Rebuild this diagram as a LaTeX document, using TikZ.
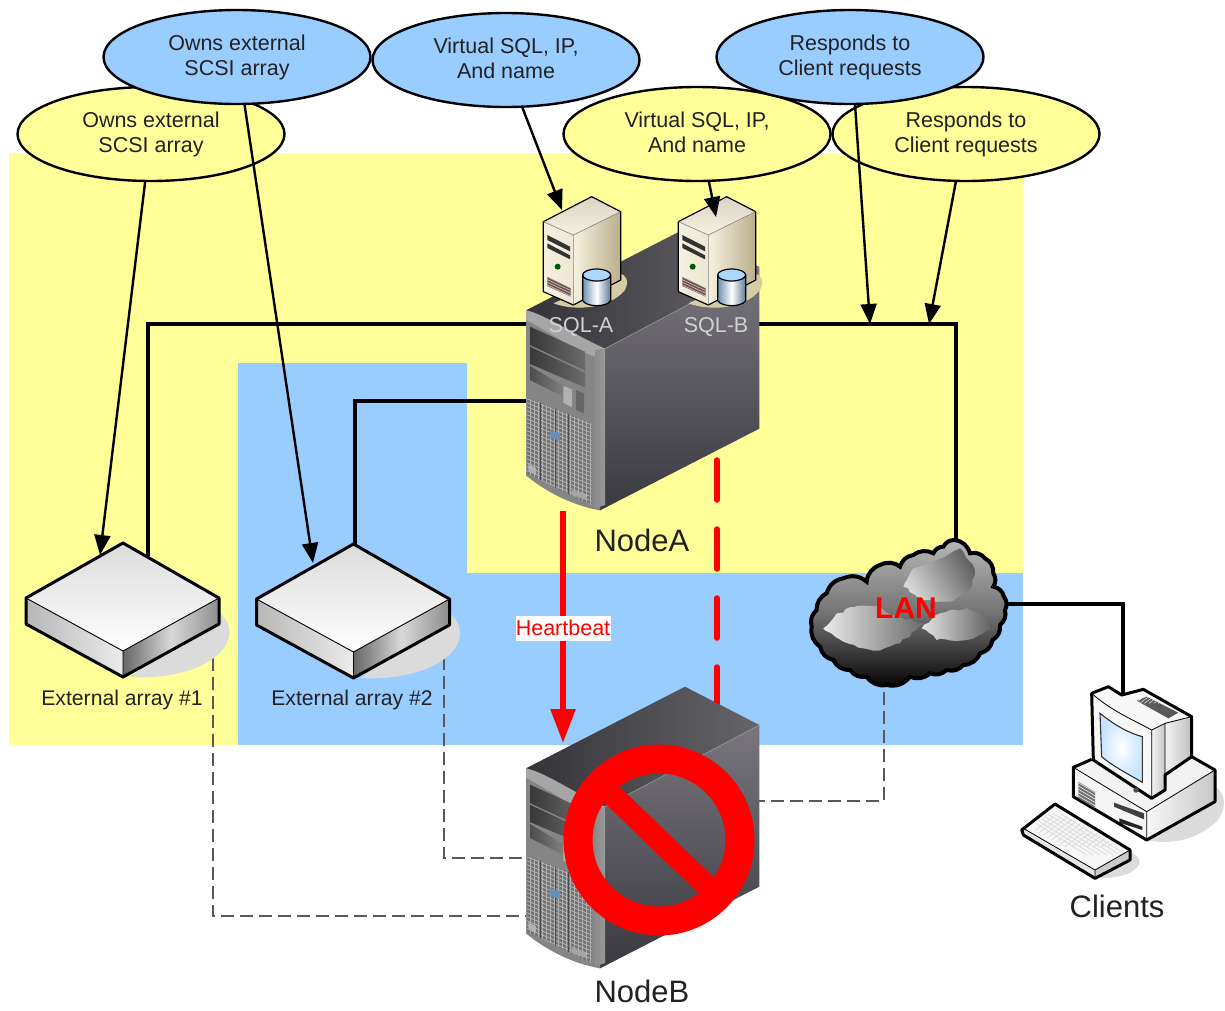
\documentclass[tikz,border=0pt]{standalone}
\usepackage{fontspec}
\setmainfont{Liberation Sans}
\usetikzlibrary{shapes.geometric,arrows.meta,decorations.pathmorphing}
\definecolor{bgyellow}{HTML}{FFFF99}
\definecolor{bgblue}{HTML}{99CCFF}
\definecolor{txt}{HTML}{222222}
\definecolor{towerlight}{HTML}{79777D}
\definecolor{towerdark}{HTML}{3A393F}
\definecolor{beigefront}{HTML}{F6F1E0}
\definecolor{beigeside}{HTML}{B9AF8C}
\definecolor{beigetop}{HTML}{D8D3C2}
\definecolor{beigeshadow}{HTML}{E6DFB0}
\tikzset{
  x=1pt,y=-1pt,
  zoomed/.style={x=0.33333pt,y=-0.33333pt},
  note/.style={ellipse,draw=black,line width=2.4pt,minimum width=267pt,minimum height=94pt,inner sep=0pt,align=center,text=txt,font=\fontsize{21.5}{25}\selectfont},
  noteblue/.style={note,fill=bgblue},
  noteyellow/.style={note,fill=bgyellow},
  pointer/.style={draw=black,line width=2.4pt,-{Triangle[length=20pt,width=16pt]}},
  cable/.style={draw=black,line width=4.5pt,line join=miter},
  standby/.style={draw=black!65,line width=2pt,dash pattern=on 13pt off 6pt},
  lbl/.style={text=txt,inner sep=0pt,font=\fontsize{21.2}{25}\selectfont},
  biglbl/.style={text=txt,inner sep=0pt,font=\fontsize{31}{36}\selectfont},
  sqllbl/.style={text=black!18,inner sep=0pt,font=\fontsize{21.5}{25}\selectfont},
  outl/.style={draw=black,line width=3pt,line join=round},
  blob/.style={decorate,decoration={random steps,segment length=5pt,amplitude=1.6pt}},
  tower/.pic={
    \begin{scope}[zoomed]
      % body behind everything
      \fill[towerdark] (48,391) -- (285,506) -- (270,991) -- (48,886) -- cycle;
      % top
      \shade[left color=towerdark!90!black,right color=towerlight!85!black] (48,391) -- (525,146) -- (748,261) -- (285,506) -- cycle;
      % right face
      \shade[shading angle=20,top color=towerlight,bottom color=towerdark] (285,506) -- (748,261) -- (748,746) -- (270,991) -- cycle;
      \draw[black!40,line width=0.5pt] (285,506) -- (748,261);
      % front
      \fill[black!48] (48,391) .. controls (110,405) and (200,470) .. (285,506) -- (270,991) .. controls (180,975) and (100,930) .. (48,886) -- cycle;
      \fill[black!35] (48,391) .. controls (110,405) and (200,470) .. (285,506) -- (255,530) .. controls (190,510) and (110,450) .. (48,420) -- cycle;
      \shade[left color=black!45,middle color=black!22,right color=black!40] (255,510) -- (285,506) -- (285,975) -- (255,985) -- cycle;
      % drive bays
      \shade[left color=black!78,right color=black!58] (60,440) -- (225,515) -- (225,572) -- (60,495) -- cycle;
      \shade[left color=black!78,right color=black!58] (60,500) -- (225,578) -- (225,622) -- (60,552) -- cycle;
      \shade[left color=black!70,right color=black!50] (60,558) -- (160,618) -- (160,650) -- (60,600) -- cycle;
      \fill[black!30] (160,618) -- (186,628) -- (186,682) -- (160,668) -- cycle;
      \fill[black!60] (198,630) -- (222,640) -- (222,700) -- (198,690) -- cycle;
      % perforated panel
      \begin{scope}
        \clip (50,652) -- (245,730) -- (245,975) -- (50,880) -- cycle;
        \fill[black!55] (40,640) rectangle (250,985);
        \foreach \i in {0,1,...,34} \draw[black!28,line width=0.7pt] (40,640+\i*12) -- (250,725+\i*12);
        \foreach \i in {0,1,...,16} \draw[black!30,line width=0.7pt] (50+\i*12,640) -- (50+\i*12,985);
        \foreach \i in {90,135,175} \draw[black!70,line width=1pt] (\i,640) -- (\i,985);
      \end{scope}
      \fill[bgblue!70!black] (120,750) -- (150,760) -- (150,782) -- (120,772) -- cycle;
      \fill[black!30] (55,852) -- (78,865) -- (78,885) -- (55,872) -- cycle;
      \fill[black!35] (185,930) -- (228,945) -- (228,960) -- (185,945) -- cycle;
    \end{scope}
  },
  minitower/.pic={
    \begin{scope}[zoomed]
      \fill[beigeshadow!60!beigeside] (130,370) .. controls (200,395) and (300,385) .. (345,330) .. controls (360,300) and (345,285) .. (330,280) -- cycle;
      \shade[left color=beigefront,right color=beigefront!85!beigeside] (100,125) -- (190,165) -- (190,375) -- (100,335) -- cycle;
      \shade[left color=beigefront,right color=beigeside] (190,165) -- (332,95) -- (332,300) -- (190,375) -- cycle;
      \shade[top color=beigetop,bottom color=beigefront] (100,125) -- (245,50) -- (332,95) -- (190,165) -- cycle;
      \draw[draw=black,line width=1.2pt,line join=round] (100,125) -- (245,50) -- (332,95) -- (332,300) -- (190,375) -- (100,335) -- cycle;
      \draw[black!50,line width=0.6pt] (100,125) -- (190,165) -- (332,95) (190,165) -- (190,375);
      \fill[black!80] (112,165) -- (180,200) -- (180,214) -- (112,180) -- cycle;
      \fill[black!80] (112,190) -- (180,226) -- (180,238) -- (112,204) -- cycle;
      \fill[black!65!green] (143,260) circle (9);
      \begin{scope}
        \clip (112,290) -- (182,325) -- (182,350) -- (112,318) -- cycle;
        \fill[black!65] (100,280) rectangle (190,360);
        \foreach \i in {0,1,2,3,4} \draw[red!30,line width=0.6pt] (110,290+\i*8) -- (185,325+\i*8);
      \end{scope}
      % database cylinder
      \shade[left color=bgblue!70!black,right color=bgblue!60!black,middle color=white] (218,285) -- (218,362) .. controls (230,382) and (290,382) .. (302,362) -- (302,285) -- cycle;
      \fill[bgblue!80!white] (260,285) ellipse (42 and 18);
      \draw[black,line width=1.2pt] (218,285) -- (218,362) .. controls (230,382) and (290,382) .. (302,362) -- (302,285);
      \draw[black,line width=1.2pt] (260,285) ellipse (42 and 18);
    \end{scope}
  },
  arraybox/.pic={
    \fill[black!14] (219,612) .. controls (228,620) and (232,630) .. (228,640) .. controls (222,660) and (185,680) .. (130,677) -- cycle;
    \shade[top color=black!14,bottom color=white] (123,543) -- (219,598) -- (123,651) -- (26,598) -- cycle;
    \shade[left color=black!28,right color=black!8] (26,598) -- (123,651) -- (123,677) -- (26,624) -- cycle;
    \shade[left color=black!60,right color=black!45,middle color=black!15] (123,651) -- (219,598) -- (219,624) -- (123,677) -- cycle;
    \draw[outl] (123,543) -- (219,598) -- (219,624) -- (123,677) -- (26,624) -- (26,598) -- cycle;
    \draw[black,line width=0.9pt] (26,598) -- (123,651) -- (219,598) (123,651) -- (123,677);
  }
}
\begin{document}
\begin{tikzpicture}
\useasboundingbox (0,0) rectangle (1225,1010);
\fill[white] (0,0) rectangle (1225,1010);
% background zones
\fill[bgyellow] (9,153) rectangle (1023,745);
\fill[bgblue] (238,363) rectangle (467,745);
\fill[bgblue] (467,573) rectangle (1023,745);

% attachment points
\coordinate (arrayOneTip) at (100,555);
\coordinate (arrayTwoTip) at (313,563);
\coordinate (sqlATip) at (562,210);
\coordinate (sqlBTip) at (716,217);
\coordinate (lanTipOne) at (870,324);
\coordinate (lanTipTwo) at (929,324);
\coordinate (nodeAleftHigh) at (527,324);
\coordinate (nodeAleftLow) at (527,401);
\coordinate (nodeArightHigh) at (758,324);
\coordinate (arrayOneTop) at (148,557);
\coordinate (arrayTwoTop) at (355,547);
\coordinate (cloudTop) at (956,545);
\coordinate (cloudRight) at (1002,604);
\coordinate (clientTop) at (1123,696);
\coordinate (hbStart) at (563,511);
\coordinate (hbEnd) at (563,743);
\coordinate (redStart) at (717,460);
\coordinate (redEnd) at (717,708);
\coordinate (dashOneA) at (213,658);
\coordinate (dashOneB) at (527,916);
\coordinate (dashTwoA) at (444,657);
\coordinate (dashTwoB) at (527,858);
\coordinate (dashLanA) at (884,692);
\coordinate (dashLanB) at (759,801);

% cables
\draw[cable] (nodeAleftHigh) -| (arrayOneTop);
\draw[cable] (nodeAleftLow) -| (arrayTwoTop);
\draw[cable] (nodeArightHigh) -| (cloudTop);
\draw[cable] (cloudRight) -| (clientTop);

% standby dashed links
\draw[standby] (dashOneA) |- (dashOneB);
\draw[standby] (dashTwoA) |- (dashTwoB);
\draw[standby] (dashLanA) |- (dashLanB);

% arrays
\pic at (0,0) {arraybox};
\pic at (230.5,1) {arraybox};
\node[lbl] (arrayOneLabel) at (122,700) {External array \#1};
\node[lbl] (arrayTwoLabel) at (352,700) {External array \#2};

% Node A
\pic at (510,180) {tower};
\pic at (510,180) {minitower};
\pic at (645,180) {minitower};
\node[sqllbl] (sqlALabel) at (581,327) {SQL-A};
\node[sqllbl] (sqlBLabel) at (716,327) {SQL-B};
\node[biglbl] (nodeALabel) at (642,540) {NodeA};

% Red heartbeat links
\draw[red,line width=5.5pt,line cap=round,dash pattern=on 40pt off 29pt] (redStart) -- (redEnd);

% Node B
\pic at (510,638) {tower};
\draw[red,line width=5.5pt,-{Triangle[length=34pt,width=24pt]}] (hbStart) -- (hbEnd);
\node[text=red,fill=white,inner sep=0pt,minimum width=95pt,minimum height=25pt,font=\fontsize{21.5}{25}\selectfont] (heartbeatLabel) at (563,628) {Heartbeat};
\draw[red,line width=29pt] (659,840) circle (81);
\draw[red,line width=22pt] (606,789) -- (712,891);
\node[biglbl] (nodeBLabel) at (642,991) {NodeB};

% LAN cloud
\begin{scope}[shift={(800,530)},zoomed,every to/.style={bend left=32}]
  \shade[draw=black,line width=4pt,top color=black!28,bottom color=black!98,middle color=black!55]
    (465,30) to (510,70) to (555,85) to (580,130) to (580,170) to (612,200) to (615,240) to (600,285) to (578,330) to (540,370) to (490,405) to (440,420) to (390,430) to (330,440) to (260,465) to (200,440) to (150,420) to (100,390) to (60,350) to (35,290) to (50,240) to (80,190) to (130,145) to (200,155) to (240,105) to (300,110) to (340,75) to (400,70) to (430,50) to (465,30);
  \shade[blob,left color=black!8,right color=black!58] (70,295) -- (110,250) -- (160,232) -- (230,228) -- (290,260) -- (370,280) -- (300,340) -- (220,362) -- (130,335) -- cycle;
  \shade[blob,left color=black!15,right color=black!62,shading angle=120] (310,170) -- (340,115) -- (410,90) -- (480,55) -- (525,120) -- (510,180) -- (450,215) -- (370,210) -- cycle;
  \shade[blob,left color=black!10,right color=black!62] (365,295) -- (420,250) -- (500,235) -- (560,260) -- (575,300) -- (500,330) -- (410,330) -- cycle;
\end{scope}
\node[text=red,inner sep=0pt,font=\fontsize{30}{34}\bfseries\selectfont] (lanLabel) at (906,608) {LAN};

% Client computer
\begin{scope}[shift={(800,530)},zoomed]
  \fill[black!14] (1245,770) .. controls (1285,790) and (1280,860) .. (1230,890) .. controls (1180,930) and (1110,945) .. (1040,930) -- cycle;
  \fill[black!14] (985,965) .. controls (1030,980) and (1030,1010) .. (985,1030) .. controls (950,1045) and (910,1045) .. (885,1045) -- cycle;
  % base
  \fill[black!5] (820,712) -- (875,688) -- (1175,680) -- (1245,720) -- (1040,845) -- cycle;
  \fill[black!4] (820,712) -- (1040,845) -- (1040,930) -- (820,800) -- cycle;
  \shade[left color=black!3,right color=black!22] (1040,845) -- (1245,720) -- (1245,815) -- (1040,930) -- cycle;
  \draw[outl] (875,688) -- (820,712) -- (820,800) -- (1040,930) -- (1245,815) -- (1245,720) -- (1175,680);
  \draw[black,line width=0.8pt] (820,712) -- (1040,845) -- (1245,720) (1040,845) -- (1040,930);
  \begin{scope}
    \clip (835,755) -- (885,785) -- (885,835) -- (835,805) -- cycle;
    \fill[black!55] (830,750) rectangle (890,840);
    \foreach \i in {0,1,...,8} \draw[black!8,line width=0.6pt] (830,745+\i*10) -- (890,780+\i*10);
  \end{scope}
  \fill[black!75] (942,818) -- (1032,850) -- (1032,868) -- (942,830) -- cycle;
  \fill[black!85] (958,865) -- (1027,890) -- (1027,900) -- (958,878) -- cycle;
  % monitor
  \fill[black!3] (875,490) -- (925,470) -- (965,495) -- (1030,478) -- (1175,560) -- (1095,580) -- (1055,600) -- cycle;
  \shade[left color=black!5,right color=black!25] (1095,580) -- (1175,560) -- (1175,680) -- (1095,735) -- cycle;
  \fill[black!3] (875,490) -- (1055,600) -- (1055,805) -- (880,690) -- cycle;
  \shade[left color=black!5,right color=black!22] (1055,600) -- (1095,580) -- (1095,780) -- (1055,805) -- cycle;
  \draw[outl] (880,690) -- (875,490) -- (925,470) -- (965,495) -- (1030,478) -- (1175,560) -- (1175,680) -- (1095,735) -- (1095,780) -- (1055,805) -- cycle;
  \draw[black,line width=0.8pt] (875,490) .. controls (930,540) and (1000,570) .. (1055,600) -- (1095,580) -- (1175,560) (1055,600) -- (1055,805) (1095,580) -- (1095,735);
  \shade[inner color=white,outer color=bgblue!55!white] (900,550) .. controls (950,590) and (990,610) .. (1027,620) -- (1027,757) .. controls (990,735) and (940,710) .. (905,680) -- cycle;
  \draw[black!80,line width=1.1pt] (900,550) .. controls (950,590) and (990,610) .. (1027,620) -- (1027,757) .. controls (990,735) and (940,710) .. (905,680) -- cycle;
  \fill[black!70] (1008,780) circle (8);
  \begin{scope}
    \clip (1010,512) -- (1040,500) -- (1135,548) -- (1105,565) -- cycle;
    \fill[black!65] (1000,495) rectangle (1140,570);
    \foreach \i in {0,1,...,9} \draw[black!12,line width=0.6pt] (1005+\i*14,520) -- (1035+\i*14,498);
  \end{scope}
  % keyboard
  \fill[black!3] (670,895) -- (765,825) -- (990,960) -- (885,1020) -- cycle;
  \fill[black!10] (670,895) -- (885,1020) -- (885,1045) -- (670,915) -- cycle;
  \fill[black!20] (885,1020) -- (990,960) -- (990,990) -- (885,1045) -- cycle;
  \begin{scope}
    \clip (690,893) -- (765,838) -- (972,960) -- (885,1008) -- cycle;
    \foreach \i in {0,1,...,12} \draw[black!14,line width=0.8pt] (660+\i*20,850) -- (860+\i*20,975);
    \foreach \i in {0,1,...,16} \draw[black!14,line width=0.8pt] (640+\i*22,950) -- (760+\i*22,860);
  \end{scope}
  \draw[outl] (665,900) -- (765,822) -- (990,960) -- (990,990) -- (885,1045) -- (670,915) -- cycle;
  \draw[black,line width=0.8pt] (670,895) -- (885,1020) -- (990,960) (885,1020) -- (885,1045);
\end{scope}
\node[biglbl] (clientsLabel) at (1117,906) {Clients};

% Notes
\node[noteyellow] (ownsYellow) at (151,134) {Owns external\\SCSI array};
\node[noteyellow] (sqlYellow) at (697,134) {Virtual SQL, IP,\\And name\vphantom{y}};
\node[noteyellow] (respYellow) at (966,134) {Responds to\\Client requests};
\node[noteblue] (ownsBlue) at (237,57) {Owns external\\SCSI array};
\node[noteblue] (sqlBlue) at (506,60) {Virtual SQL, IP,\\And name\vphantom{y}};
\node[noteblue] (respBlue) at (850,57) {Responds to\\Client requests};

% Pointers
\draw[pointer] (ownsYellow.263) -- (arrayOneTip);
\draw[pointer] (ownsBlue.279) -- (arrayTwoTip);
\draw[pointer] (sqlBlue.289) -- (sqlATip);
\draw[pointer] (sqlYellow.284) -- (sqlBTip);
\draw[pointer] (respBlue.276) -- (lanTipOne);
\draw[pointer] (respYellow.258) -- (lanTipTwo);
\end{tikzpicture}
\end{document}
